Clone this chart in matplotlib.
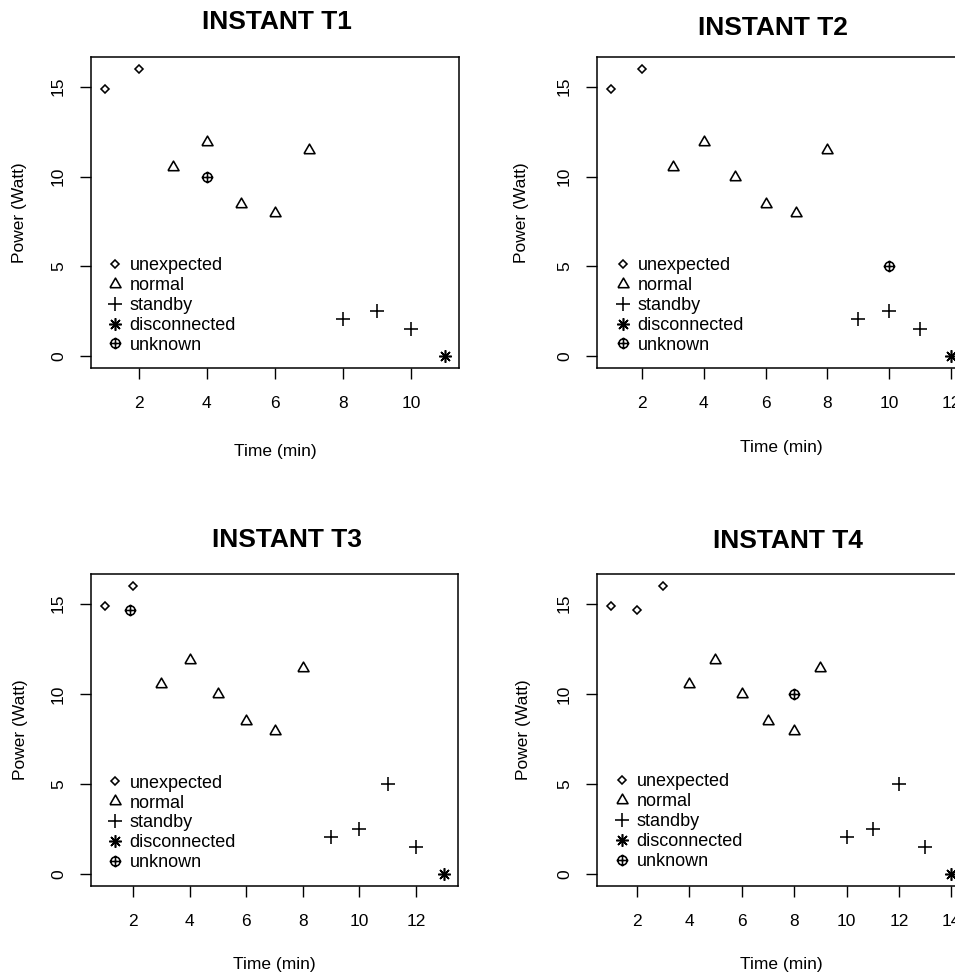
import matplotlib
matplotlib.use("Agg")
import matplotlib.pyplot as plt
from matplotlib.path import Path
from matplotlib.lines import Line2D
import numpy as np

plt.rcParams['font.family'] = ['Liberation Sans', 'DejaVu Sans']

# ---------------- data ----------------
categories = ['unexpected', 'normal', 'standby', 'disconnected', 'unknown']
titles = ['INSTANT T1', 'INSTANT T2', 'INSTANT T3', 'INSTANT T4']
y_ticks = [0, 5, 10, 15]
x_label = 'Time (min)'
y_label = 'Power (Watt)'

t1_time = [1, 2, 3, 4, 5, 6, 7, 4, 8, 9, 10, 11]
t1_power = [14.87, 16.0, 10.55, 11.9, 8.5, 7.95, 11.45, 10.0, 2.07, 2.5, 1.52, 0.0]
t1_state = ['unexpected', 'unexpected', 'normal', 'normal', 'normal', 'normal', 'normal',
            'unknown', 'standby', 'standby', 'standby', 'disconnected']

t2_time = [1, 2, 3, 4, 5, 6, 7, 8, 9, 10, 10, 11, 12]
t2_power = [14.87, 16.0, 10.55, 11.9, 10.0, 8.5, 7.95, 11.45, 2.07, 2.5, 5.0, 1.52, 0.0]
t2_state = ['unexpected', 'unexpected', 'normal', 'normal', 'normal', 'normal', 'normal',
            'normal', 'standby', 'standby', 'unknown', 'standby', 'disconnected']

t3_time = [1, 2, 1.9, 3, 4, 5, 6, 7, 8, 9, 10, 11, 12, 13]
t3_power = [14.87, 16.0, 14.65, 10.55, 11.9, 10.0, 8.5, 7.95, 11.45, 2.07, 2.5, 5.0, 1.52, 0.0]
t3_state = ['unexpected', 'unexpected', 'unknown', 'normal', 'normal', 'normal', 'normal',
            'normal', 'normal', 'standby', 'standby', 'standby', 'standby', 'disconnected']

t4_time = [1, 2, 3, 4, 5, 6, 7, 8, 9, 8, 10, 11, 12, 13, 14]
t4_power = [14.87, 14.65, 16.0, 10.55, 11.9, 10.0, 8.5, 7.95, 11.45, 10.0, 2.07, 2.5, 5.0, 1.52, 0.0]
t4_state = ['unexpected', 'unexpected', 'unexpected', 'normal', 'normal', 'normal', 'normal',
            'normal', 'normal', 'unknown', 'standby', 'standby', 'standby', 'standby',
            'disconnected']

panels = [(t1_time, t1_power, t1_state), (t2_time, t2_power, t2_state),
          (t3_time, t3_power, t3_state), (t4_time, t4_power, t4_state)]

# ---------------- marker styles ----------------
tri = [(-1, -0.577), (1, -0.577), (0, 1.155), (-1, -0.577)]
circ = Path.unit_circle()
circ = Path(circ.vertices * 0.78, circ.codes)
plus_path = Path([(-1, 0), (1, 0), (0, -1), (0, 1)],
                 [Path.MOVETO, Path.LINETO, Path.MOVETO, Path.LINETO])
circle_plus = Path.make_compound_path(circ, plus_path)

styles = {
    'unexpected': dict(marker='D', markersize=4.2),
    'normal': dict(marker=tri, markersize=9.2),
    'standby': dict(marker='+', markersize=9.4),
    'disconnected': dict(marker=(8, 2, 0), markersize=9.0),
    'unknown': dict(marker=circle_plus, markersize=8.5),
}
MEW = 1.15

W, H = 955, 973
fig = plt.figure(figsize=(W / 100, H / 100), dpi=100)

# axes boxes in pixels: (left, top, right, bottom)
boxes = [(91, 57, 459, 368), (597, 57, 965, 368),
         (91, 574, 458, 886), (597, 574, 965, 886)]
title_pos = [(0.505, 1.112), (0.478, 1.093), (0.533, 1.109), (0.519, 1.106)]
xlab_y = [-0.27, -0.257, -0.25, -0.253]
ylab_x = [-0.193, -0.204, -0.193, -0.201]
leg_anchor = [(0.041, 0.201), (0.046, 0.201), (0.041, 0.202), (0.044, 0.206)]

for i, (times, power, state) in enumerate(panels):
    l, t, r, b = boxes[i]
    ax = fig.add_axes([l / W, 1 - b / H, (r - l) / W, (b - t) / H])
    times = np.asarray(times, dtype=float)
    power = np.asarray(power, dtype=float)
    state = np.asarray(state)
    for cat in categories:
        m = state == cat
        if m.any():
            ax.plot(times[m], power[m], linestyle='none', color='black',
                    markerfacecolor='none', markeredgecolor='black',
                    markeredgewidth=MEW, **styles[cat])
    # R-style 4% extended ranges
    xr = times.max() - times.min()
    ax.set_xlim(times.min() - 0.04 * xr, times.max() + 0.04 * xr)
    yr = power.max() - power.min()
    ax.set_ylim(power.min() - 0.04 * yr, power.max() + 0.04 * yr)
    ax.set_xticks(np.arange(2, times.max() + 0.01, 2))
    ax.set_yticks(y_ticks)
    ax.xaxis.set_major_formatter(matplotlib.ticker.FormatStrFormatter('%d'))
    ax.tick_params(axis='both', direction='out', length=8, width=1.0,
                   labelsize=12.5, colors='black')
    ax.tick_params(axis='x', pad=12.5)
    ax.tick_params(axis='y', pad=10)
    for lbl in ax.get_yticklabels():
        lbl.set_rotation(90)
        lbl.set_va('center')
        lbl.set_ha('right')
    for s in ax.spines.values():
        s.set_linewidth(1.1)
        s.set_color('black')

    ax.text(title_pos[i][0], title_pos[i][1], titles[i], transform=ax.transAxes,
            ha='center', va='center', fontsize=19, fontweight='bold')
    ax.set_xlabel(x_label, fontsize=12.5)
    ax.xaxis.set_label_coords(0.5, xlab_y[i])
    ax.xaxis.label.set_va('center')
    ax.set_ylabel(y_label, fontsize=12.5)
    ax.yaxis.set_label_coords(ylab_x[i], 0.5)
    ax.yaxis.label.set_va('center')

    handles = [Line2D([], [], linestyle='none', color='black', markerfacecolor='none',
                      markeredgecolor='black', markeredgewidth=MEW, **styles[c])
               for c in categories]
    ax.legend(handles, categories, loc='center left', bbox_to_anchor=leg_anchor[i],
              frameon=False, fontsize=13, handlelength=1.0, handletextpad=0.3,
              labelspacing=0.16, borderpad=0, borderaxespad=0)

fig.savefig('out.png', dpi=100, facecolor='white')
